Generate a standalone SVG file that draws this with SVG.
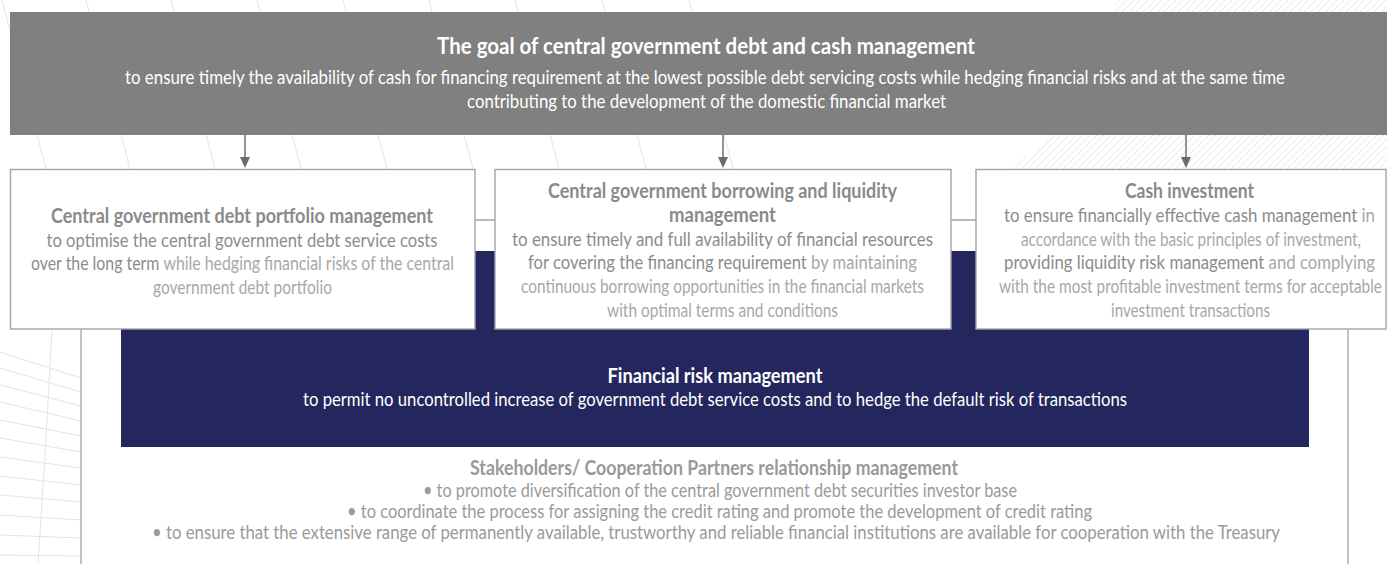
<svg xmlns="http://www.w3.org/2000/svg" width="1387" height="564" viewBox="0 0 1387 564">
<style>
text{font-family:Lato,"Liberation Sans",sans-serif}
.wb{fill:#fff;font-weight:700;font-size:23.5px}
.w{fill:#fff;font-weight:400;font-size:20px}
.h{fill:#8a8a8a;font-weight:700;font-size:21px}
.e{fill:#8c8c8c;font-weight:400;font-size:20px}
.l{fill:#a8a8a8;font-weight:400;font-size:20px}
.sh{fill:#999;font-weight:700;font-size:20.5px}
.s{fill:#9a9a9a;font-weight:400;font-size:19px}
.m{text-anchor:middle}
.box{fill:#fff;stroke:#a0a4ad;stroke-width:1.4}
.con{stroke:#a0a4ad;stroke-width:1.3;fill:none}
.arr{stroke:#707070;stroke-width:1.5}
.ah{fill:#6b6b6b}
.dec{stroke:#e4e4e4;stroke-width:1;fill:none}
</style>
<defs>
<pattern id="hatch" width="7" height="7" patternUnits="userSpaceOnUse">
<path d="M-1,8 L8,-1" stroke="#e2e2e2" stroke-width="0.9"/>
</pattern>
</defs>
<rect width="1387" height="564" fill="#fff"/>
<g id="background">
<path d="M1012,169 L1052,135 L1112,12 L1118,0 L1387,0 L1387,169 Z" fill="url(#hatch)"/>
<path class="dec" d="M2,0 L46,169 M86,0 L130,169 M171,0 L215,169 M257,0 L301,169 M343,0 L387,169 M429,0 L473,169 M515,0 L559,169 M602,0 L646,169 M689,0 L733,169"/>
<path class="dec" d="M52,330 Q46,450 38,564 M0,352 L81,378 M0,368 L81,392 M0,385 L81,406 M0,402 L81,421 M0,420 L81,436 M0,438 L81,452 M0,457 L81,468 M0,476 L81,485 M0,495 L81,502 M0,515 L81,520 M0,535 L81,538 M0,555 L81,556"/>
</g>
<g id="goal">
<rect x="10" y="12" width="1377" height="123" fill="#808080"/>
<text class="wb m" transform="translate(706,54) scale(0.78,1)" textLength="689.7" lengthAdjust="spacingAndGlyphs">The goal of central government debt and cash management</text>
<text class="w m" transform="translate(705,84) scale(0.78,1)" textLength="1487.2" lengthAdjust="spacingAndGlyphs">to ensure timely the availability of cash for financing requirement at the lowest possible debt servicing costs while hedging financial risks and at the same time</text>
<text class="w m" transform="translate(706.5,108) scale(0.78,1)" textLength="614.1" lengthAdjust="spacingAndGlyphs">contributing to the development of the domestic financial market</text>
</g>
<g id="risk">
<rect x="121" y="251" width="1188" height="196" fill="#23275e"/>
<text class="wb m" transform="translate(715,383) scale(0.78,1)" style="font-size:21.5px" textLength="275.6" lengthAdjust="spacingAndGlyphs">Financial risk management</text>
<text class="w m" transform="translate(715,406) scale(0.78,1)" textLength="1056.4" lengthAdjust="spacingAndGlyphs">to permit no uncontrolled increase of government debt service costs and to hedge the default risk of transactions</text>
</g>
<g id="connectors">
<line class="arr" x1="245" y1="135" x2="245" y2="158"/>
<polygon class="ah" points="240,157 250,157 245,168"/>
<line class="arr" x1="723" y1="135" x2="723" y2="158"/>
<polygon class="ah" points="718,157 728,157 723,168"/>
<line class="arr" x1="1186" y1="135" x2="1186" y2="158"/>
<polygon class="ah" points="1181,157 1191,157 1186,168"/>
<path class="con" d="M475,220 L495,220 M951,220 L976,220 M81,329 L81,564 M1348,329 L1348,564"/>
</g>
<g id="box-portfolio">
<rect class="box" x="10.5" y="169.5" width="464.5" height="159.5"/>
<text class="h m" transform="translate(242,223) scale(0.78,1)" textLength="489.7" lengthAdjust="spacingAndGlyphs">Central government debt portfolio management</text>
<text class="e m" transform="translate(242,247) scale(0.78,1)" textLength="501.3" lengthAdjust="spacingAndGlyphs">to optimise the central government debt service costs</text>
<text class="e" transform="translate(31,270) scale(0.78,1)" textLength="542.3" lengthAdjust="spacingAndGlyphs">over the long term <tspan class="l">while hedging financial risks of the central</tspan></text>
<text class="l m" transform="translate(242.5,294) scale(0.78,1)" textLength="229.5" lengthAdjust="spacingAndGlyphs">government debt portfolio</text>
</g>
<g id="box-borrowing">
<rect class="box" x="495" y="169.5" width="456" height="159.5"/>
<text class="h m" transform="translate(722.5,198) scale(0.78,1)" textLength="447.4" lengthAdjust="spacingAndGlyphs">Central government borrowing and liquidity</text>
<text class="h m" transform="translate(722.5,222) scale(0.78,1)" textLength="137.2" lengthAdjust="spacingAndGlyphs">management</text>
<text class="e m" transform="translate(722.5,246) scale(0.78,1)" textLength="539.7" lengthAdjust="spacingAndGlyphs">to ensure timely and full availability of financial resources</text>
<text class="e" transform="translate(528,269) scale(0.78,1)" textLength="498.7" lengthAdjust="spacingAndGlyphs">for covering the financing requirement <tspan class="l">by maintaining</tspan></text>
<text class="l m" transform="translate(722.5,293) scale(0.78,1)" textLength="516.7" lengthAdjust="spacingAndGlyphs">continuous borrowing opportunities in the financial markets</text>
<text class="l m" transform="translate(722.5,317) scale(0.78,1)" textLength="296.2" lengthAdjust="spacingAndGlyphs">with optimal terms and conditions</text>
</g>
<g id="box-cash">
<rect class="box" x="976" y="169.5" width="410" height="159.5"/>
<text class="h m" transform="translate(1189.5,198) scale(0.78,1)" textLength="165.4" lengthAdjust="spacingAndGlyphs">Cash investment</text>
<text class="e" transform="translate(1004,222) scale(0.78,1)" textLength="475.6" lengthAdjust="spacingAndGlyphs">to ensure financially effective cash management <tspan class="l">in</tspan></text>
<text class="l m" transform="translate(1191,246) scale(0.78,1)" textLength="435.9" lengthAdjust="spacingAndGlyphs">accordance with the basic principles of investment,</text>
<text class="e" transform="translate(1004,269) scale(0.78,1)" textLength="475.6" lengthAdjust="spacingAndGlyphs">providing liquidity risk management <tspan class="l">and complying</tspan></text>
<text class="l m" transform="translate(1190.5,293) scale(0.78,1)" textLength="491" lengthAdjust="spacingAndGlyphs">with the most profitable investment terms for acceptable</text>
<text class="l m" transform="translate(1190.5,317) scale(0.78,1)" textLength="203.8" lengthAdjust="spacingAndGlyphs">investment transactions</text>
</g>
<g id="stakeholders">
<text class="sh m" transform="translate(714,475) scale(0.78,1)" textLength="625.6" lengthAdjust="spacingAndGlyphs">Stakeholders/ Cooperation Partners relationship management</text>
<text class="s m" transform="translate(720,497) scale(0.78,1)" textLength="761.5" lengthAdjust="spacingAndGlyphs">• to promote diversification of the central government debt securities investor base</text>
<text class="s m" transform="translate(719.5,518) scale(0.78,1)" textLength="955.1" lengthAdjust="spacingAndGlyphs">•  to coordinate the process for assigning the credit rating and promote the development of credit rating</text>
<text class="s m" transform="translate(716,539) scale(0.78,1)" textLength="1446.2" lengthAdjust="spacingAndGlyphs">•  to ensure that the extensive range of permanently available, trustworthy and reliable financial institutions are available for cooperation with the Treasury</text>
</g>
</svg>
